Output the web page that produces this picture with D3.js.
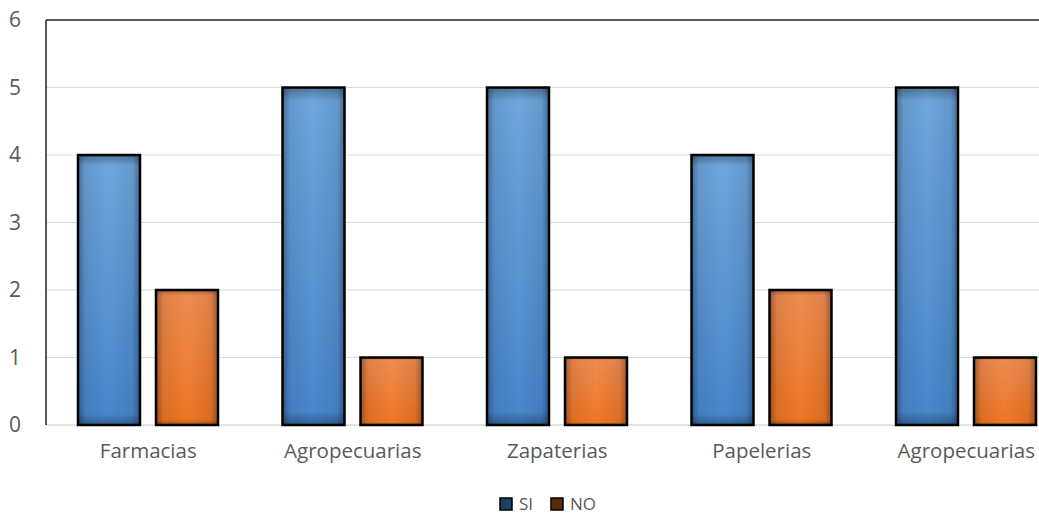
<!DOCTYPE html>
<html>
<head>
<meta charset="utf-8">
<script src="https://cdn.jsdelivr.net/npm/d3@7"></script>
<style>
  html, body { margin: 0; padding: 0; background: #fff; }
  svg { display: block; font-family: "Open Sans", "Noto Sans", sans-serif; }
</style>
</head>
<body>
<div id="chart"></div>
<script>
const categories = ['Farmacias', 'Agropecuarias', 'Zapaterias', 'Papelerias', 'Agropecuarias'];
const seriesNames = ['SI', 'NO'];
const siValues = [4, 5, 5, 4, 5];
const noValues = [2, 1, 1, 2, 1];
const yTicks = [0, 1, 2, 3, 4, 5, 6];

const width = 1039, height = 516;
const plot = { left: 46, top: 20, bottom: 425, step: 204.5 };

const svg = d3.select('#chart').append('svg')
  .attr('width', width)
  .attr('height', height);

// gradients for the bevelled bar look
const defs = svg.append('defs');
function vGrad(id, top, bottom) {
  const g = defs.append('linearGradient').attr('id', id)
    .attr('x1', 0).attr('y1', 0).attr('x2', 0).attr('y2', 1);
  g.append('stop').attr('offset', '0%').attr('stop-color', top);
  g.append('stop').attr('offset', '100%').attr('stop-color', bottom);
}
vGrad('gradSI', '#6fa7de', '#4686cc');
vGrad('gradNO', '#f08d52', '#ee7522');
const edge = defs.append('linearGradient').attr('id', 'edge')
  .attr('x1', 0).attr('y1', 0).attr('x2', 1).attr('y2', 0);
[[0, 0.35], [0.12, 0.08], [0.5, 0], [0.88, 0.08], [1, 0.35]].forEach(([o, a]) =>
  edge.append('stop').attr('offset', o).attr('stop-color', '#000').attr('stop-opacity', a));
const topEdge = defs.append('linearGradient').attr('id', 'topEdge')
  .attr('x1', 0).attr('y1', 0).attr('x2', 0).attr('y2', 1);
[[0, 0.3], [0.04, 0], [0.96, 0], [1, 0.3]].forEach(([o, a]) =>
  topEdge.append('stop').attr('offset', o).attr('stop-color', '#000').attr('stop-opacity', a));

const x0 = d3.scaleBand()
  .domain(d3.range(categories.length))
  .range([plot.left, plot.left + plot.step * categories.length])
  .padding(0);

const x1 = d3.scaleBand()
  .domain(seriesNames)
  .range([32, 172])
  .paddingInner(16 / 78)
  .paddingOuter(0);

const y = d3.scaleLinear().domain([0, 6]).range([plot.bottom, plot.top]);

// gridlines
svg.append('g')
  .selectAll('line')
  .data(yTicks.filter(t => t > 0 && t < 6))
  .join('line')
  .attr('x1', plot.left).attr('x2', width)
  .attr('y1', d => y(d)).attr('y2', d => y(d))
  .attr('stroke', '#d9d9d9').attr('stroke-width', 1);

// bottom axis line
svg.append('line')
  .attr('x1', plot.left).attr('x2', width)
  .attr('y1', y(0)).attr('y2', y(0))
  .attr('stroke', '#d9d9d9').attr('stroke-width', 1.5);

// top border
svg.append('line')
  .attr('x1', plot.left).attr('x2', width)
  .attr('y1', y(6)).attr('y2', y(6))
  .attr('stroke', '#222').attr('stroke-width', 1.5);

// left axis line
svg.append('line')
  .attr('x1', plot.left).attr('x2', plot.left)
  .attr('y1', y(6)).attr('y2', y(0))
  .attr('stroke', '#222').attr('stroke-width', 1.5);

// y tick labels
const yAxis = svg.append('g')
  .attr('transform', `translate(${plot.left},0)`)
  .call(d3.axisLeft(y).tickValues(yTicks).tickSize(0).tickPadding(25).tickFormat(d3.format('d')));
yAxis.select('.domain').remove();
yAxis.selectAll('text')
  .attr('fill', '#595959')
  .style('font-size', '21px')
  .style('font-family', '"Open Sans", sans-serif');

// x labels
const xAxis = svg.append('g')
  .attr('transform', `translate(0,${plot.bottom})`)
  .call(d3.axisBottom(x0).tickSize(0).tickPadding(18).tickFormat(i => categories[i]));
xAxis.select('.domain').remove();
xAxis.selectAll('text')
  .attr('fill', '#595959')
  .style('font-size', '20.5px')
  .style('font-family', '"Open Sans", sans-serif');

// bars
const rows = categories.map((c, i) => ({ i, values: [
  { key: 'SI', value: siValues[i] },
  { key: 'NO', value: noValues[i] }
]}));

const groups = svg.append('g').selectAll('g')
  .data(rows)
  .join('g')
  .attr('transform', d => `translate(${x0(d.i)},0)`);

const bars = groups.selectAll('g')
  .data(d => d.values)
  .join('g');

bars.append('rect')
  .attr('x', d => x1(d.key))
  .attr('y', d => y(d.value))
  .attr('width', x1.bandwidth())
  .attr('height', d => y(0) - y(d.value))
  .attr('fill', d => d.key === 'SI' ? 'url(#gradSI)' : 'url(#gradNO)');
bars.append('rect')
  .attr('x', d => x1(d.key))
  .attr('y', d => y(d.value))
  .attr('width', x1.bandwidth())
  .attr('height', d => y(0) - y(d.value))
  .attr('fill', 'url(#edge)');
bars.append('rect')
  .attr('x', d => x1(d.key))
  .attr('y', d => y(d.value))
  .attr('width', x1.bandwidth())
  .attr('height', d => y(0) - y(d.value))
  .attr('fill', 'url(#topEdge)')
  .attr('stroke', '#000')
  .attr('stroke-width', 2.5);

// legend
const legendColors = { SI: '#1f3d5e', NO: '#5b2a0c' };
const legendX = [500, 551];
const legend = svg.append('g');
seriesNames.forEach((s, k) => {
  legend.append('rect')
    .attr('x', legendX[k]).attr('y', 498)
    .attr('width', 12).attr('height', 12)
    .attr('fill', legendColors[s])
    .attr('stroke', '#000').attr('stroke-width', 1.5);
  legend.append('text')
    .attr('x', legendX[k] + 19).attr('y', 510)
    .attr('fill', '#595959')
    .style('font-size', '17px')
    .text(s);
});
</script>
</body>
</html>
